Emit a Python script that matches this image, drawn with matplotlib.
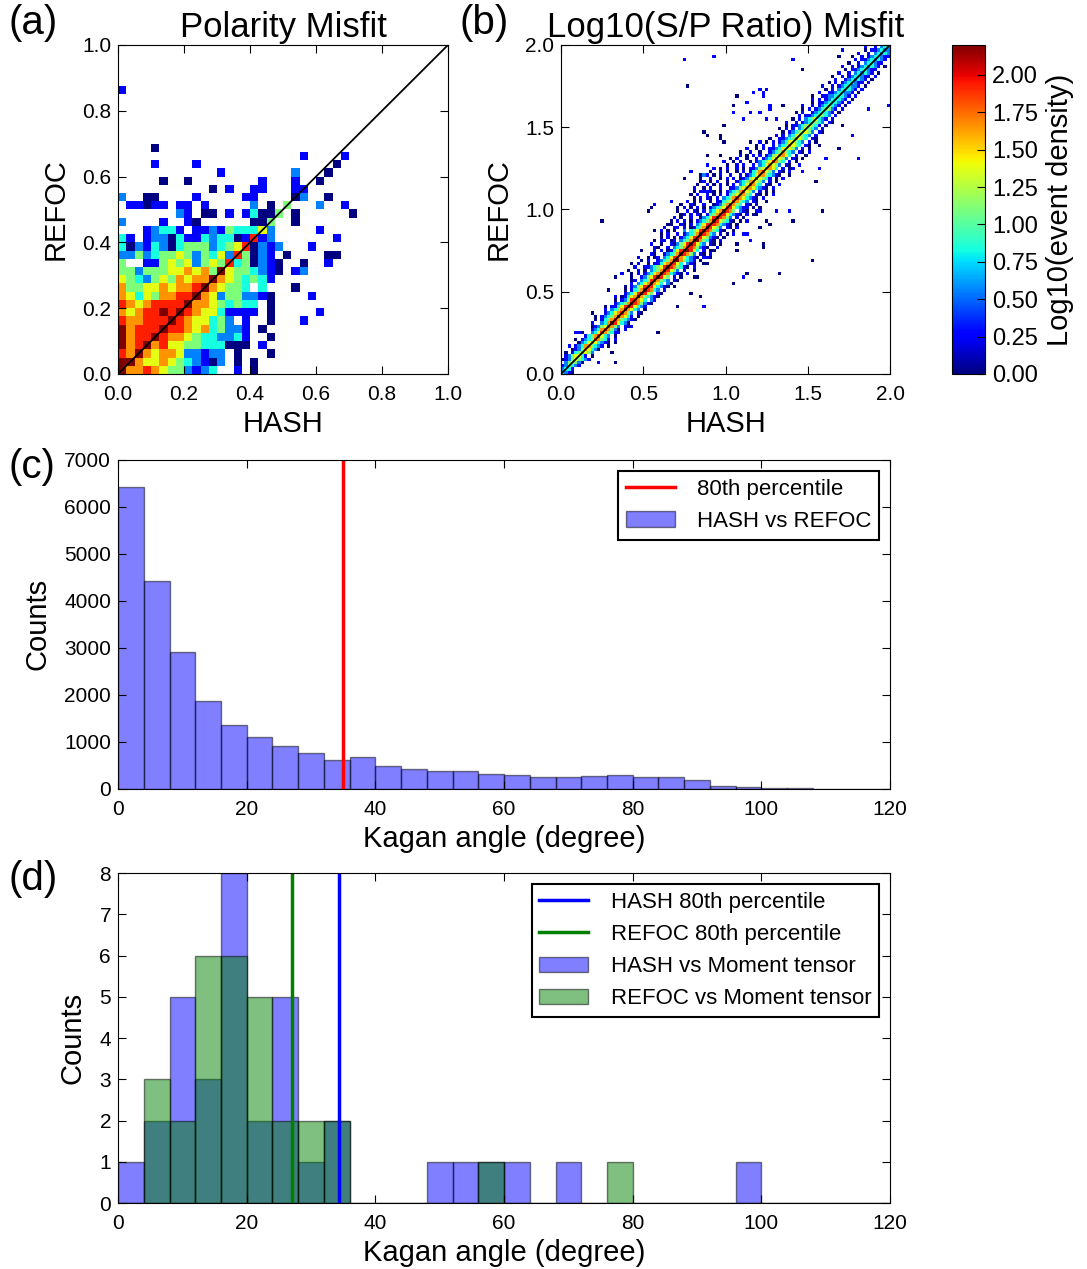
import numpy as np
import matplotlib
matplotlib.use('Agg')
import matplotlib.pyplot as plt

plt.rcParams['font.family'] = ['Liberation Sans', 'DejaVu Sans']
plt.rcParams['xtick.direction'] = 'in'
plt.rcParams['ytick.direction'] = 'in'
plt.rcParams['xtick.top'] = True
plt.rcParams['ytick.right'] = True
plt.rcParams['xtick.major.size'] = 6
plt.rcParams['ytick.major.size'] = 6
plt.rcParams['xtick.major.pad'] = 8
plt.rcParams['ytick.major.pad'] = 5

LEVEL_MAX = 2.2   # top of the colour scale, log10(event density)
XPAD, YPAD = 4.5, 9

# ---- (a) polarity misfit, 40x40 bins on [0,1]; digits 1..9 = colour level, '.' = empty
# rows listed from the top (row 34) down to row 0
polarity_rows = [
    "2.... ..... ..... ..... ..... .....",
    "", "", "", "", "", "",
    "....1",
    "..... ..... ..... ..... ..2.. ..2",
    "....2 ....2 ..... ..... ..... .1",
    "..... ..... ..2.. ..... .3... 1",
    "..... 1..1. ..... ..2.. .2..1",
    "..... ..... .1.2. .22.. .22",
    "3..11 ....2 ..... 22... .13.. 1",
    ".2212 2.22. 2.... .3.1. 5...3 ..2",
    "..... ..32. 11.2. 24115 .1... ...1",
    "3.... 2..21 ..... .115. .1",
    "...23 442.2 23254 4463. ....2",
    "42.23 31422 43441 2823. ..... .2",
    "41324 31455 53456 81323 ...2",
    "33534 55653 54638 5132. 1.... 11",
    "5..22 56563 56584 51321 ..1.. 2",
    "55355 56676 75965 54321 .23",
    "65435 65767 79765 4542",
    "75566 76778 97655 4.4.. .1",
    "76465 77889 76355 3321. ...2",
    "87678 88897 76545 44.1",
    "76788 98987 66422 22.1. ....2",
    "87788 89876 6453. 2..1. ..2",
    "97888 98876 74533 2.1",
    "97889 87765 44334 2..1",
    "97897 86655 44411 1.2",
    "87976 77633 233.1 ...1",
    "99766 76543 213.1 .1",
    "97787 65532 34..2 .1",
]

# ---- (b) log10(S/P) misfit, 100x100 bins on [0,2]
# band along the diagonal, row 0 (bottom) upward: "left|right", right[0] sits on the diagonal
sp_band = [
    "|4321", "23|442", "123|5432", "2.35|6531", "1235|65432",
    ".2356|642.1", "1.245|7653", ".1235|76431", "2.2347|75432.1", "..1346|764321",
    "1.2345|87542.2", "..2457|8643.1", "1..346|875422", "..2347|87531.2", ".12356|8753.21",
    "2..347|986431", ".1.2457|8754321", "1.23457|97642.1", "..23467|8753.21", ".2.3457|97643.1",
    "1.22468|986432", "..23457|9875321", ".1.2358|8764.32", "2.12467|9754321", "..23468|9865.21",
    ".1.2457|98743.2", "1.23568|8864321", "..2.3467|9764.31", ".12.3458|87543.21", "1..23568|9865.2.1",
    "2..1.2.23467|9874321.2", ".1..2.1.3457|98653.2..1", "..2..2234568|9875421.2",
    "1.2..1.22467|8864.321..1", ".1.2..23457|9975432.1", "2..1.12.3468|8764321.2.1",
    "..21..23457|98753.21.2", "1...2.2.12468|99864.2.1", ".21..2.3457|8875321..2",
    "2..1..213568|98643.21.1", ".1.22.12.3457|9975421.2", "..1.2.1.23468|8865321.1",
    "1.2..2.23457|98743.2.1.2", ".2.1.1..3.4568|9875421..1", "2..22.2.12457|98653.21.2",
    ".1..21.2.3468|8874321.1", "1.2.2.1.23457|9865421.1.2", ".2.1..2..13468|98753.2.1",
    "..12.2.21.2457|8864321.2.1", "1..2.21.2.3467|9875.321..2", ".2.1.2.1.23456|8864322.1.1",
    "1..21..2..12357|8754.21.2", ".2.1.2..1.22456|87543.21..1", "..1.2.21.2.3457|8764321.2",
    "1.2..2.1.2.2456|7754.21.1.2", ".1.2..21.1.23457|8653.2.1.1", "2..1.2..2..22356|7764321.2",
    ".1..2.1.2.1.2.346|8754.21..2", "..2.1.2..1..23457|7653.2.1", "1..2..1.2.2.12356|86542.1.2",
    ".2.1.2..2..2.2346|7754321..1", "1..2.1..1.2.2457|8653.21.2", ".1.2..2.1.22356|7764.2.1",
    "..1..2.2..2.346|7653.21..2", "2..1.2..1.23456|8754.2.1", ".1.2..1..2.2346|7653.21.1",
    "..2.1.2.2.2356|7764.2..1", "1..2..1..2345|7543.21.2", ".2..1.2.22346|6653.2.1",
    "..1.2..2.345|7654.21..1", "1..2.1.2.2346|6543.2.1", "1..22345|7654.21",
    ".2.2.346|6543.2", "..1.2345|6653.21", "1.2.2.34|6543.2",
    ".1.22345|6542.1", "2..2.234|5543.21", ".1.2.345|6432.2", "..2.2234|5543.2", "1.2..234|5432.1",
    ".1.2.234|5532.2", "2..2.234|5432.1", "..1.2234|4432.2", ".2.2.234|4432.1", "1..2.334|4432.2",
    ".2..2234|4332.1", "..1.2.34|4432.2", "2..2.234|4332.1", ".1.2.234|4322.2", "..2..234|3432.1",
    "1..2.234|4322.2", ".2..2.34|3432.1", "..1.2234|4322", "2..2.234|3432.1", ".1..2.34|4322",
    "..2.2234|3432.2", "1..2.234|4322.1", ".2..2.34|3432", "..1.2234|3322", ".2..2.34|332",
]
# scattered cells away from the band
sp_out_x = [0.257, 0.535, 0.71, 0.64, 0.56, 0.58, 0.46, 0.46, 0.33, 0.29, 0.19, 0.59, 0.31, 0.32,
            0.71, 0.79, 0.84, 0.87, 0.69, 0.80, 0.82, 0.895, 0.895, 0.92, 0.43, 0.09, 0.115, 0.23, 0.33,
            0.74, 0.94, 0.765, 0.87, 0.895, 0.97, 0.97, 0.994, 0.89, 0.97, 0.89, 0.92, 0.79, 0.74,
            0.84, 0.84, 0.84, 0.87, 0.82, 0.84, 0.86, 0.88, 0.90, 0.67, 0.56, 0.54, 0.71,
            1.19, 1.21, 1.19, 1.30, 1.38, 1.58, 1.25, 1.27, 1.40, 1.20, 1.10, 1.12, 1.14, 1.15,
            1.07, 1.07, 1.22, 1.22, 1.53, 1.12, 1.10, 1.33, 1.20, 1.045,
            1.40, 1.47, 1.70, 1.68, 1.76, 1.79, 1.98, 1.07, 1.20, 1.25, 1.045, 1.12, 1.17, 1.22,
            1.22, 1.27, 1.27, 1.35, 1.05, 1.10, 1.15, 1.21, 1.25, 1.31, 0.99, 1.76, 1.86, 1.71,
            1.76, 1.81, 1.68, 1.61, 1.57, 1.55, 1.47, 1.40, 1.62, 1.60, 1.65]
sp_out_y = [0.94, 0.99, 0.99, 0.915, 0.865, 0.815, 0.70, 0.63, 0.586, 0.51, 0.36, 0.254, 0.127, 0.18,
            0.41, 0.485, 0.46, 0.41, 0.52, 0.59, 0.59, 0.66, 0.70, 0.74, 0.29, 0.248, 0.248, 0.075, 0.06,
            1.90, 1.93, 1.75, 1.47, 1.45, 1.44, 1.42, 1.40, 1.32, 1.32, 1.27, 1.24, 1.22, 1.19,
            1.21, 1.19, 1.17, 1.20, 1.15, 1.10, 1.10, 1.10, 1.10, 1.05, 1.03, 1.01, 1.01,
            0.986, 0.986, 0.966, 0.99, 0.99, 0.99, 0.94, 0.915, 0.94, 0.89, 0.84, 0.84, 0.84, 0.815,
            0.79, 0.74, 0.78, 0.76, 0.69, 0.61, 0.59, 0.61, 0.56, 0.54,
            1.905, 1.855, 1.96, 1.93, 1.93, 1.91, 1.63, 1.68, 1.72, 1.72, 1.63, 1.64, 1.70, 1.70,
            1.68, 1.62, 1.60, 1.62, 1.59, 1.55, 1.59, 1.58, 1.55, 1.55, 1.51, 1.71, 1.61, 1.51,
            1.45, 1.30, 1.36, 1.30, 1.25, 1.17, 1.22, 1.24, 1.53, 1.68, 1.67]
sp_out_level = [1, 1, 1, 1, 1, 2, 1, 1, 1, 1, 1, 1, 1, 1,
                1, 1, 1, 2, 1, 1, 1, 1, 2, 1, 2, 2, 2, 2, 1,
                2, 2, 1, 1, 1, 1, 1, 1, 1, 1, 2, 2, 2, 1,
                1, 1, 1, 3, 2, 2, 2, 2, 1, 2, 2, 1, 1,
                2, 2, 1, 2, 2, 1, 1, 1, 1, 1, 2, 2, 2, 2,
                1, 1, 1, 1, 1, 1, 2, 1, 1, 1,
                2, 1, 2, 1, 1, 2, 2, 1, 2, 2, 1, 2, 2, 2,
                2, 2, 2, 1, 2, 2, 2, 2, 2, 2, 1, 1, 2, 1,
                2, 2, 1, 2, 2, 1, 2, 2, 1, 2, 2]

# ---- (c) Kagan angle HASH vs REFOC, 4 degree bins
kagan_edges = np.arange(0, 124, 4)
hash_vs_refoc = [6420, 4425, 2915, 1865, 1355, 1115, 905, 760, 605, 670,
                 485, 430, 375, 375, 310, 305, 255, 250, 275, 290,
                 250, 250, 195, 55, 40, 25, 18, 8, 0, 0]
p80_all = 35.0

# ---- (d) Kagan angle vs moment tensor
hash_vs_mt = [1, 2, 5, 3, 8, 2, 5, 1, 2, 0, 0, 0, 1, 1, 1, 1, 0, 1, 0, 0,
              0, 0, 0, 0, 1, 0, 0, 0, 0, 0]
refoc_vs_mt = [0, 3, 2, 6, 6, 5, 2, 2, 2, 0, 0, 0, 0, 0, 1, 0, 0, 0, 0, 1,
               0, 0, 0, 0, 0, 0, 0, 0, 0, 0]
p80_hash = 34.4
p80_refoc = 27.0


def level_value(ch):
    return (int(ch) - 1) / 8.0 * LEVEL_MAX


def polarity_grid(rows, n=40):
    g = np.full((n, n), np.nan)
    for r, s in enumerate(reversed(rows)):
        s = s.replace(' ', '')
        for c, ch in enumerate(s):
            if ch != '.':
                g[r, c] = level_value(ch)
    return g


def sp_grid(band, xs, ys, lv, n=100, width=0.02):
    g = np.full((n, n), np.nan)
    for r, s in enumerate(band):
        left, right = s.split('|')
        cells = [(r - 1 - k, ch) for k, ch in enumerate(reversed(left))]
        cells += [(r + k, ch) for k, ch in enumerate(right)]
        for c, ch in cells:
            if ch != '.' and 0 <= c < n:
                g[r, c] = level_value(ch)
    for x, y, l in zip(xs, ys, lv):
        c, r = int(x / width), int(y / width)
        if 0 <= c < n and 0 <= r < n and np.isnan(g[r, c]):
            g[r, c] = level_value(str(l))
    return g


fig = plt.figure(figsize=(10.87, 12.69), dpi=100)

ax_a = fig.add_axes([0.1086, 0.7053, 0.3036, 0.2593])
ax_b = fig.add_axes([0.5161, 0.7053, 0.3027, 0.2593])
cax = fig.add_axes([0.8758, 0.7053, 0.0304, 0.2593])
ax_c = fig.add_axes([0.1086, 0.3783, 0.7102, 0.2593])
ax_d = fig.add_axes([0.1086, 0.0520, 0.7102, 0.2600])

# (a)
edges_a = np.linspace(0, 1, 41)
ga = np.ma.masked_invalid(polarity_grid(polarity_rows))
mesh = ax_a.pcolormesh(edges_a, edges_a, ga, cmap='jet', vmin=0, vmax=LEVEL_MAX)
ax_a.plot([0, 1], [0, 1], color='k', lw=1.3)
ax_a.set_xlim(0, 1)
ax_a.set_ylim(0, 1)
ax_a.set_xticks(np.arange(0, 1.01, 0.2))
ax_a.set_yticks(np.arange(0, 1.01, 0.2))
ax_a.set_xlabel('HASH', fontsize=21, labelpad=XPAD)
ax_a.set_ylabel('REFOC', fontsize=21, labelpad=YPAD)
ax_a.set_title('Polarity Misfit', fontsize=25, pad=6)

# (b)
edges_b = np.linspace(0, 2, 101)
gb = np.ma.masked_invalid(sp_grid(sp_band, sp_out_x, sp_out_y, sp_out_level))
ax_b.pcolormesh(edges_b, edges_b, gb, cmap='jet', vmin=0, vmax=LEVEL_MAX)
ax_b.plot([0, 2], [0, 2], color='k', lw=1.3)
ax_b.set_xlim(0, 2)
ax_b.set_ylim(0, 2)
ax_b.set_xticks(np.arange(0, 2.01, 0.5))
ax_b.set_yticks(np.arange(0, 2.01, 0.5))
ax_b.set_xlabel('HASH', fontsize=21, labelpad=XPAD)
ax_b.set_ylabel('REFOC', fontsize=21, labelpad=YPAD)
ax_b.set_title('Log10(S/P Ratio) Misfit', fontsize=25, pad=6)

for ax in (ax_a, ax_b):
    ax.xaxis.set_major_formatter(matplotlib.ticker.FormatStrFormatter('%.1f'))
    ax.yaxis.set_major_formatter(matplotlib.ticker.FormatStrFormatter('%.1f'))

cb = fig.colorbar(mesh, cax=cax, ticks=np.arange(0, 2.01, 0.25), format='%.2f')
cb.ax.tick_params(labelsize=17, direction='in', length=6)
cb.set_label('Log10(event density)', fontsize=21, labelpad=6)

# (c)
ax_c.axvline(p80_all, color='r', lw=2.5, label='80th percentile')
ax_c.hist(kagan_edges[:-1], bins=kagan_edges, weights=hash_vs_refoc, color='b',
          alpha=0.5, edgecolor='k', lw=1, label='HASH vs REFOC')
ax_c.set_xlim(0, 120)
ax_c.set_ylim(0, 7000)
ax_c.set_yticks(np.arange(0, 7001, 1000))
ax_c.set_xlabel('Kagan angle (degree)', fontsize=21, labelpad=XPAD)
ax_c.set_ylabel('Counts', fontsize=21, labelpad=YPAD)
leg = ax_c.legend(loc='upper right', fontsize=16, fancybox=False, framealpha=1,
                  edgecolor='k', handletextpad=1.0, borderpad=0.35, handlelength=2.2)
leg.get_frame().set_linewidth(1.5)

# (d)
ax_d.axvline(p80_hash, color='b', lw=2.5, label='HASH 80th percentile')
ax_d.axvline(p80_refoc, color='g', lw=2.5, label='REFOC 80th percentile')
ax_d.hist(kagan_edges[:-1], bins=kagan_edges, weights=hash_vs_mt, color='b',
          alpha=0.5, edgecolor='k', lw=1, label='HASH vs Moment tensor')
ax_d.hist(kagan_edges[:-1], bins=kagan_edges, weights=refoc_vs_mt, color='g',
          alpha=0.5, edgecolor='k', lw=1, label='REFOC vs Moment tensor')
ax_d.set_xlim(0, 120)
ax_d.set_ylim(0, 8)
ax_d.set_yticks(np.arange(0, 9, 1))
ax_d.set_xlabel('Kagan angle (degree)', fontsize=21, labelpad=XPAD)
ax_d.set_ylabel('Counts', fontsize=21, labelpad=YPAD)
leg = ax_d.legend(loc='upper right', fontsize=16, fancybox=False, framealpha=1,
                  edgecolor='k', handletextpad=1.0, borderpad=0.35, handlelength=2.2)
leg.get_frame().set_linewidth(1.5)

for ax in (ax_a, ax_b, ax_c, ax_d):
    ax.tick_params(labelsize=15)

fig.text(0.008, 0.997, '(a)', fontsize=29, va='top')
fig.text(0.423, 0.997, '(b)', fontsize=29, va='top')
fig.text(0.008, 0.647, '(c)', fontsize=29, va='top')
fig.text(0.008, 0.322, '(d)', fontsize=29, va='top')

fig.savefig('out.png', dpi=100)
